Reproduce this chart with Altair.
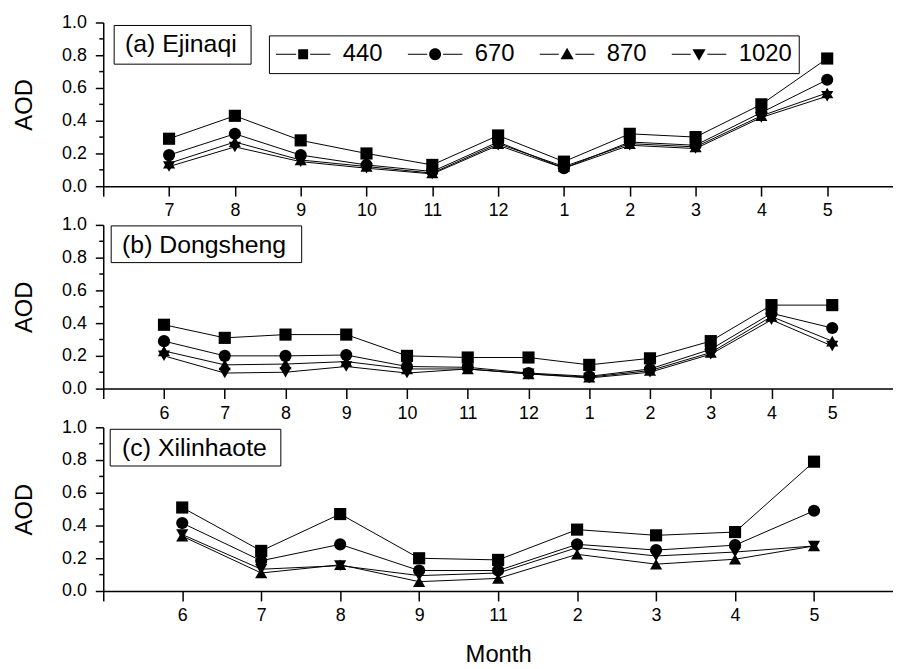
import altair as alt
import pandas as pd

FONT = "Liberation Sans"

wavelengths = ["440", "670", "870", "1020"]

months_a = ["7", "8", "9", "10", "11", "12", "1", "2", "3", "4", "5"]
a_440 = [0.29, 0.43, 0.28, 0.20, 0.13, 0.31, 0.15, 0.32, 0.30, 0.50, 0.78]
a_670 = [0.19, 0.32, 0.19, 0.13, 0.09, 0.27, 0.11, 0.27, 0.25, 0.45, 0.65]
a_870 = [0.14, 0.27, 0.16, 0.12, 0.08, 0.26, 0.12, 0.26, 0.24, 0.43, 0.57]
a_1020 = [0.12, 0.24, 0.15, 0.11, 0.075, 0.25, 0.11, 0.25, 0.23, 0.42, 0.55]

months_b = ["6", "7", "8", "9", "10", "11", "12", "1", "2", "3", "4", "5"]
b_440 = [0.39, 0.31, 0.33, 0.33, 0.20, 0.19, 0.19, 0.145, 0.185, 0.29, 0.51, 0.51]
b_670 = [0.29, 0.20, 0.20, 0.205, 0.135, 0.13, 0.095, 0.075, 0.12, 0.24, 0.46, 0.37]
b_870 = [0.23, 0.145, 0.15, 0.165, 0.12, 0.12, 0.09, 0.07, 0.11, 0.22, 0.44, 0.29]
b_1020 = [0.20, 0.095, 0.10, 0.135, 0.095, 0.12, 0.09, 0.065, 0.10, 0.21, 0.42, 0.26]

months_c = ["6", "7", "8", "9", "11", "2", "3", "4", "5"]
c_440 = [0.51, 0.245, 0.47, 0.20, 0.19, 0.375, 0.34, 0.36, 0.79]
c_670 = [0.415, 0.185, 0.285, 0.125, 0.125, 0.285, 0.25, 0.28, 0.49]
c_870 = [0.335, 0.11, 0.16, 0.057, 0.077, 0.224, 0.164, 0.194, 0.275]
c_1020 = [0.345, 0.133, 0.155, 0.094, 0.11, 0.265, 0.214, 0.238, 0.275]

panel_labels = ["(a) Ejinaqi", "(b) Dongsheng", "(c) Xilinhaote"]
y_major = [0.0, 0.2, 0.4, 0.6, 0.8, 1.0]
y_minor = [0.1, 0.3, 0.5, 0.7, 0.9]

point_shapes = ["square", "circle", "triangle-up", "triangle-down"]


def _legend_path(gap, marker):
    return ("M-4.58,-0.09H-%s V0.09H-4.58Z M%s,-0.09H4.58V0.09H%sZ " % (gap, gap, gap)) + marker


legend_paths = [
    _legend_path(1.17, "M-0.83,-0.83H0.83V0.83H-0.83Z"),
    _legend_path(1.33, "M1,0A1,1,0,1,1,-1,0A1,1,0,1,1,1,0Z"),
    _legend_path(1.4, "M0,-1.1L1.1,0.85L-1.1,0.85Z"),
    _legend_path(1.4, "M0,1.1L1.1,-0.85L-1.1,-0.85Z"),
]

W = 796
H = 165


def panel(months, series, label, box, text_pos, with_legend, x_title):
    n = len(months)
    rows = []
    for wl, vals in zip(wavelengths, series):
        for i, (m, v) in enumerate(zip(months, vals)):
            rows.append({"idx": i + 1, "month": m, "wl": wl, "aod": v})
    df = pd.DataFrame(rows)
    label_expr = "[" + ",".join(["''"] + ["'%s'" % m for m in months]) + "][datum.value]"
    x_axis_kwargs = dict(values=list(range(0, n + 1)), labelExpr=label_expr,
                         tickSize=10, labelPadding=6, grid=False)
    if x_title:
        x_axis_kwargs.update(title=x_title, titlePadding=18, titleFontSize=24)
    else:
        x_axis_kwargs.update(title=None)
    x = alt.X("idx:Q", scale=alt.Scale(domain=[0, n + 1], nice=False, zero=False),
              axis=alt.Axis(**x_axis_kwargs))
    y = alt.Y("aod:Q", scale=alt.Scale(domain=[0, 1], nice=False),
              axis=alt.Axis(values=y_major, format=".1f", title="AOD", titleFontSize=24,
                            tickSize=8, labelPadding=9, titlePadding=25, grid=False))
    base = alt.Chart(df)
    lines = base.mark_line(color="black", strokeWidth=1).encode(x=x, y=y, detail="wl:N")
    pts = base.mark_point(filled=True, color="black", size=150, opacity=1).encode(
        x=x, y=y,
        shape=alt.Shape("wl:N", scale=alt.Scale(domain=wavelengths, range=point_shapes), legend=None),
    )
    minor = alt.Chart(pd.DataFrame({"aod": y_minor})).mark_rule(
        color="black", strokeWidth=1.5).encode(y=y, x=alt.value(-4), x2=alt.value(0))
    lab_df = pd.DataFrame({"label": [label]})
    rect = alt.Chart(lab_df).mark_rect(fill="white", stroke="black", strokeWidth=1).encode(
        x=alt.value(box[0]), x2=alt.value(box[1]), y=alt.value(box[2]), y2=alt.value(box[3]))
    txt = alt.Chart(lab_df).mark_text(align="left", baseline="middle", font=FONT,
                                      fontSize=25, color="black").encode(
        x=alt.value(text_pos[0]), y=alt.value(text_pos[1]), text="label:N")
    layers = [minor, lines, pts, rect, txt]
    if with_legend:
        leg = base.mark_point(filled=True, color="black", size=144, clip=True, opacity=1).encode(
            x=x, y=alt.value(-200),
            shape=alt.Shape("wl:N", scale=alt.Scale(domain=wavelengths, range=legend_paths),
                            legend=alt.Legend(
                                orient="none", legendX=167, legendY=13, direction="horizontal",
                                title=None, strokeColor="black", fillColor="white",
                                padding=7, columnPadding=25, labelOffset=28, symbolOffset=15.5,
                                labelFont=FONT, labelFontSize=24, labelColor="black",
                                symbolSize=144, symbolStrokeWidth=0, cornerRadius=0)),
        )
        layers.append(leg)
    ch = alt.layer(*layers).properties(width=W, height=H)
    if with_legend:
        ch = ch.resolve_scale(shape="independent")
    return ch


pa = panel(months_a, [a_440, a_670, a_870, a_1020], panel_labels[0], (11, 149, 3, 42), (22, 22), True, None)
pb = panel(months_b, [b_440, b_670, b_870, b_1020], panel_labels[1], (8, 200, 1, 38), (19, 20), False, None)
pc = panel(months_c, [c_440, c_670, c_870, c_1020], panel_labels[2], (7, 179, 2, 39), (19, 21), False, "Month")

chart = alt.vconcat(pa, pb, pc, spacing=39, bounds="flush").properties(
    padding={"left": 4, "top": 3, "right": 0, "bottom": 0}
).configure_view(stroke=None).configure_axis(
    labelFont=FONT, titleFont=FONT, labelFontSize=18, titleFontSize=23,
    titleFontWeight="normal", domainColor="black", tickColor="black",
    labelColor="black", titleColor="black", domainWidth=1.5, tickWidth=1.5,
)

chart.save("out.html", embed_options={"renderer": "svg", "actions": False})
